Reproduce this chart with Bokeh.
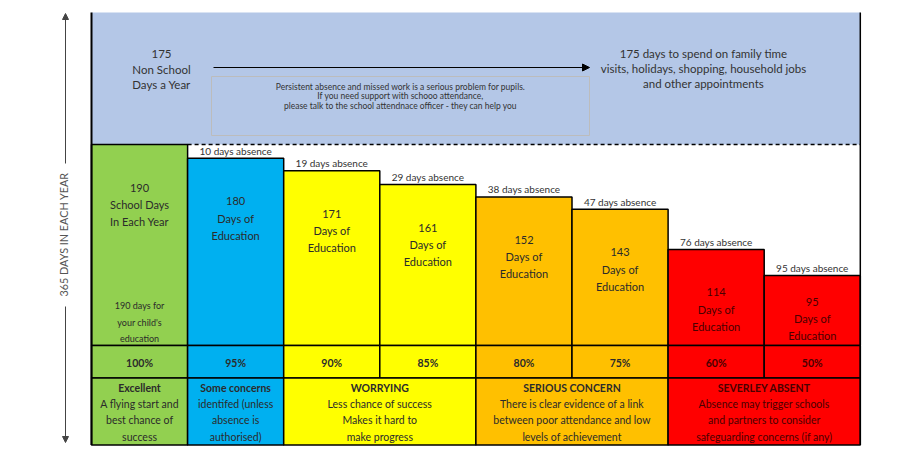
import math
from bokeh.plotting import figure
from bokeh.models import Range1d, Arrow, NormalHead
from bokeh.embed import file_html
from bokeh.resources import INLINE
from bokeh.core.properties import value

# ---------------- data ----------------
school_days = 190
non_school_days = 175
days = [190, 180, 171, 161, 152, 143, 114, 95]
absence_days = [0, 10, 19, 29, 38, 47, 76, 95]
percent = ["100%", "95%", "90%", "85%", "80%", "75%", "60%", "50%"]
bar_lines = [
    ["190", "School Days", "In Each Year"],
    ["180", "Days of", "Education"],
    ["171", "Days of", "Education"],
    ["161", "Days of", "Education"],
    ["152", "Days of", "Education"],
    ["143", "Days of", "Education"],
    ["114", "Days of", "Education"],
    ["95", "Days of", "Education"],
]
green_note = ["190 days for", "your child's", "education"]
band_start = [0, 1, 2, 4, 6]
band_end = [1, 2, 4, 6, 8]
band_title = ["Excellent", "Some concerns", "WORRYING", "SERIOUS CONCERN", "SEVERLEY ABSENT"]
band_text = [
    ["A flying start and", "best chance of", "success"],
    ["identifed (unless", "absence is", "authorised)"],
    ["Less chance of success", "Makes it hard to", "make progress"],
    ["There is clear evidence of a link", "between poor attendance and low", "levels of achievement"],
    ["Absence may trigger schools", "and partners to consider", "safeguarding concerns (if any)"],
]
header_left = ["175", "Non School", "Days a Year"]
header_right = ["175 days to spend on family time",
                "visits, holidays, shopping, household jobs",
                "and other appointments"]
notice = ["Persistent absence and missed work is a serious problem for pupils.",
          "If you need support with schooo attendance,",
          "please talk to the school attendnace officer - they can help you"]
side_label = "365 DAYS IN EACH YEAR"

# ---------------- styles ----------------
bar_colors = ["#92D050", "#00B0F0", "#FFFF00", "#FFFF00", "#FFC000", "#FFC000", "#FF0000", "#FF0000"]
band_colors = ["#92D050", "#00B0F0", "#FFFF00", "#FFC000", "#FF0000"]
header_color = "#B4C7E7"
FONT = "Lato"
TXT = "#2b2b2b"
TXT_ON_RED = "#4a0000"

# ---------------- layout ----------------
W, H = 886, 456
COL0, COLW = 91.0, 96.1
S = 1.38             # px per day
BASE_PX, TOP_PX = 345.0, 144.0
B = school_days - (BASE_PX - TOP_PX) / S


def xd(px):
    return (px - COL0) / COLW


def yd(py):
    return B + (BASE_PX - py) / S


p = figure(width=W, height=H, x_range=Range1d(xd(0), xd(W)),
           y_range=Range1d(yd(H), yd(0)),
           x_axis_location=None, y_axis_location=None,
           toolbar_location=None, output_backend="svg", min_border=0)
p.outline_line_color = None
p.grid.visible = False
p.background_fill_color = "white"

ncol = len(days)

# header region
p.quad(left=[0], right=[ncol], bottom=[school_days], top=[yd(12)],
       fill_color=header_color, line_color=None)
p.quad(left=[xd(211)], right=[xd(589)], bottom=[yd(135)], top=[yd(76)],
       fill_color=None, line_color="#bcbcbc", line_width=1)
p.add_layout(Arrow(end=NormalHead(size=7, fill_color="black", line_color="black"),
                   x_start=xd(213), y_start=yd(67), x_end=xd(589), y_end=yd(67),
                   line_color="black", line_width=1))

# dashed line at school-days level
p.segment(x0=[1], x1=[ncol], y0=[school_days], y1=[school_days],
          line_color="black", line_width=1.5, line_dash="4 3")

# bars
xs = [i + 0.5 for i in range(ncol)]
p.vbar(x=xs, width=1, bottom=B, top=days, fill_color=bar_colors,
       line_color="black", line_width=1.5)

# percent row
p.quad(left=list(range(ncol)), right=[i + 1 for i in range(ncol)],
       bottom=yd(377.5), top=B, fill_color=bar_colors, line_color="black", line_width=1.5)

# description bands
p.quad(left=band_start, right=band_end, bottom=yd(444.5), top=yd(377.5),
       fill_color=band_colors, line_color="black", line_width=1.5)

# borders
p.segment(x0=[0], x1=[0], y0=[yd(12)], y1=[yd(444.5)], line_color="black", line_width=2)
p.segment(x0=[ncol], x1=[ncol], y0=[yd(12)], y1=[yd(444.5)], line_color="black", line_width=1.5)


def add_text(x, y, t, size, bold=False, color=TXT, angle=0.0):
    p.text(x=x, y=y, text=t, text_font=value(FONT), text_font_size=value(size),
           text_font_style="bold" if bold else "normal", text_color=color,
           text_align="center", text_baseline="middle", angle=angle)


def col_color(i):
    return TXT_ON_RED if bar_colors[i] == "#FF0000" else TXT


# header texts
add_text([xd(161)] * 3, [yd(53 + 15.5 * k) for k in range(3)], header_left, "11.5px", color="#333333")
add_text([xd(703)] * 3, [yd(53 + 15 * k) for k in range(3)], header_right, "11.5px", color="#333333")
add_text([xd(400)] * 3, [yd(86 + 9.5 * k) for k in range(3)], notice, "8.5px", color="#333333")

# absence labels
ax, ay, at = [], [], []
for i in range(1, ncol):
    ax.append(i + 0.5)
    ay.append(days[i] + 7.5 / S)
    at.append(f"{absence_days[i]} days absence")
add_text(ax, ay, at, "10px", color="#333333")

# bar texts (first line 43px below top, kept inside short bars)
bx, by, bt, bc = [], [], [], []
for i in range(ncol):
    hpx = (days[i] - B) * S
    first = min(43.0, hpx - 44.0)
    for k, line in enumerate(bar_lines[i]):
        bx.append(i + 0.5)
        by.append(days[i] - (first + 17 * k) / S)
        bt.append(line)
        bc.append(col_color(i))
p.text(x=bx, y=by, text=bt, text_font=value(FONT), text_font_size=value("11px"),
       text_color=bc, text_align="center", text_baseline="middle")

add_text([0.5] * 3, [B + (40 - 16.5 * k) / S for k in range(3)], green_note, "9px")

# percent texts
p.text(x=xs, y=[yd(362)] * ncol, text=percent, text_font=value(FONT),
       text_font_size=value("10.5px"), text_font_style="bold",
       text_color=[col_color(i) for i in range(ncol)],
       text_align="center", text_baseline="middle")

# band texts
tx, ty, tt, tc = [], [], [], []
for j in range(len(band_title)):
    cx = (band_start[j] + band_end[j]) / 2
    c = TXT_ON_RED if band_colors[j] == "#FF0000" else TXT
    for k, line in enumerate(band_text[j]):
        tx.append(cx)
        ty.append(yd(403.5 + 16.3 * k))
        tt.append(line)
        tc.append(c)
p.text(x=[(band_start[j] + band_end[j]) / 2 for j in range(len(band_title))],
       y=[yd(387.5)] * len(band_title), text=band_title, text_font=value(FONT),
       text_font_size=value("10.5px"), text_font_style="bold",
       text_color=[TXT_ON_RED if c == "#FF0000" else TXT for c in band_colors],
       text_align="center", text_baseline="middle")
p.text(x=tx, y=ty, text=tt, text_font=value(FONT), text_font_size=value("10.5px"),
       text_color=tc, text_align="center", text_baseline="middle")

# side arrow and label
sx = xd(65)
p.add_layout(Arrow(end=NormalHead(size=6, fill_color="#444444", line_color="#444444"),
                   x_start=sx, y_start=yd(163), x_end=sx, y_end=yd(13),
                   line_color="#444444", line_width=1))
p.add_layout(Arrow(end=NormalHead(size=6, fill_color="#444444", line_color="#444444"),
                   x_start=sx, y_start=yd(306), x_end=sx, y_end=yd(442),
                   line_color="#444444", line_width=1))
add_text([xd(63)], [yd(234)], [side_label], "10.8px", color="#555555", angle=math.pi / 2)

open("out.html", "w").write(file_html(p, INLINE))
